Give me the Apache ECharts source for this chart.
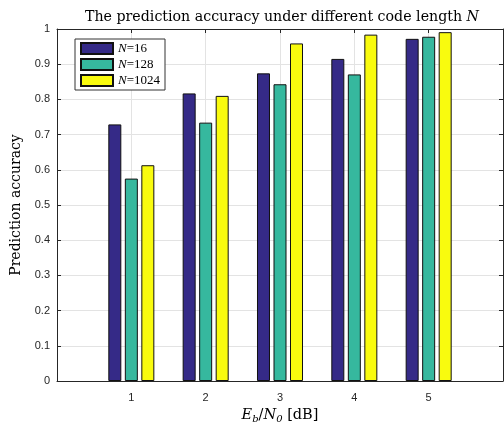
<!DOCTYPE html>
<html>
<head>
<meta charset="utf-8">
<script src="https://cdn.jsdelivr.net/npm/echarts@6/dist/echarts.min.js"></script>
<style>html,body{margin:0;padding:0;background:#fff;}#c{width:504px;height:424px;}</style>
</head>
<body>
<div id="c"></div>
<script>
const snrValues = [1, 2, 3, 4, 5];
const seriesNames = ['16', '128', '1024'];
const accN16 = [0.729, 0.817, 0.874, 0.915, 0.972];
const accN128 = [0.575, 0.734, 0.843, 0.871, 0.978];
const accN1024 = [0.613, 0.810, 0.959, 0.984, 0.991];
const colors = ['#352a87', '#36b89e', '#f9fb0e'];

const serif = 'DejaVu Serif';
const axisColor = '#262626';
const chart = echarts.init(document.getElementById('c'), null, {renderer: 'canvas'});

function mk(name, vals, color) {
  return {
    name: name,
    type: 'bar',
    xAxisIndex: 0,
    yAxisIndex: 0,
    barWidth: 13,
    barGap: '27%',
    itemStyle: {color: color, borderColor: '#111', borderWidth: 1},
    data: snrValues.map((x, i) => [x, vals[i]])
  };
}

function tick() { return {show: true, inside: true, length: 4, lineStyle: {color: axisColor, width: 1}}; }
function aline() { return {show: true, onZero: false, lineStyle: {color: axisColor, width: 1}}; }

chart.setOption({
  animation: false,
  backgroundColor: '#fff',
  title: {
    text: 'The prediction accuracy under different code length {i|N}',
    left: 277, top: 5, textAlign: 'center',
    textStyle: {
      fontFamily: serif, fontSize: 14.2, fontWeight: 'normal', color: '#000',
      rich: {i: {fontFamily: serif, fontSize: 14.2, fontStyle: 'italic', color: '#000'}}
    }
  },
  grid: {left: 57, right: 1, top: 29, bottom: 43, containLabel: false, outerBoundsMode: 'none'},
  legend: {
    orient: 'vertical', left: 75, top: 39,
    icon: 'rect',
    itemWidth: 32, itemHeight: 11, itemGap: 3,
    padding: [3, 5, 3, 5],
    borderColor: '#333', borderWidth: 1, backgroundColor: '#fff',
    data: seriesNames.map(n => 'N=' + n),
    formatter: name => '{i|N}{r|=' + name.slice(2) + '}',
    textStyle: {
      fontFamily: 'Liberation Serif', fontSize: 13, color: '#000', lineHeight: 12,
      rich: {
        i: {fontFamily: 'Liberation Serif', fontSize: 13, fontStyle: 'italic', color: '#000', lineHeight: 12},
        r: {fontFamily: 'Liberation Serif', fontSize: 13, color: '#000', lineHeight: 12}
      }
    }
  },
  xAxis: [{
    type: 'value', min: 0, max: 6, interval: 1, position: 'bottom',
    axisLine: aline(), axisTick: tick(),
    axisLabel: {
      color: axisColor, fontFamily: 'Liberation Sans', fontSize: 11, margin: 11,
      formatter: v => (v >= 1 && v <= 5) ? String(v) : ''
    },
    splitLine: {show: true, lineStyle: {color: '#e3e3e3', width: 1}},
    name: '{i|E}{s|b}{r|/}{i|N}{s|0}{r| [dB]}',
    nameLocation: 'middle', nameGap: 17,
    nameTextStyle: {
      fontFamily: serif, fontSize: 14.5, color: '#000',
      rich: {
        i: {fontFamily: serif, fontSize: 14.5, fontStyle: 'italic', color: '#000', lineHeight: 18},
        r: {fontFamily: serif, fontSize: 14.5, color: '#000', lineHeight: 18},
        s: {fontFamily: serif, fontSize: 10, fontStyle: 'italic', color: '#000', padding: [8, 0, 0, 0]}
      }
    }
  }, {
    type: 'value', min: 0, max: 6, interval: 1, position: 'top',
    axisLine: aline(), axisTick: tick(),
    axisLabel: {show: false}, splitLine: {show: false}
  }],
  yAxis: [{
    type: 'value', min: 0, max: 1, interval: 0.1, position: 'left',
    axisLine: aline(), axisTick: tick(),
    axisLabel: {
      color: axisColor, fontFamily: 'Liberation Sans', fontSize: 11, margin: 7,
      formatter: v => String(Math.round(v * 10) / 10)
    },
    splitLine: {show: true, lineStyle: {color: '#e3e3e3', width: 1}},
    name: 'Prediction accuracy', nameLocation: 'middle', nameGap: 32,
    nameTextStyle: {fontFamily: serif, fontSize: 14, color: '#000'}
  }, {
    type: 'value', min: 0, max: 1, interval: 0.1, position: 'right',
    axisLine: aline(), axisTick: tick(),
    axisLabel: {show: false}, splitLine: {show: false}
  }],
  series: [
    mk('N=' + seriesNames[0], accN16, colors[0]),
    mk('N=' + seriesNames[1], accN128, colors[1]),
    mk('N=' + seriesNames[2], accN1024, colors[2])
  ]
});
</script>
</body>
</html>
